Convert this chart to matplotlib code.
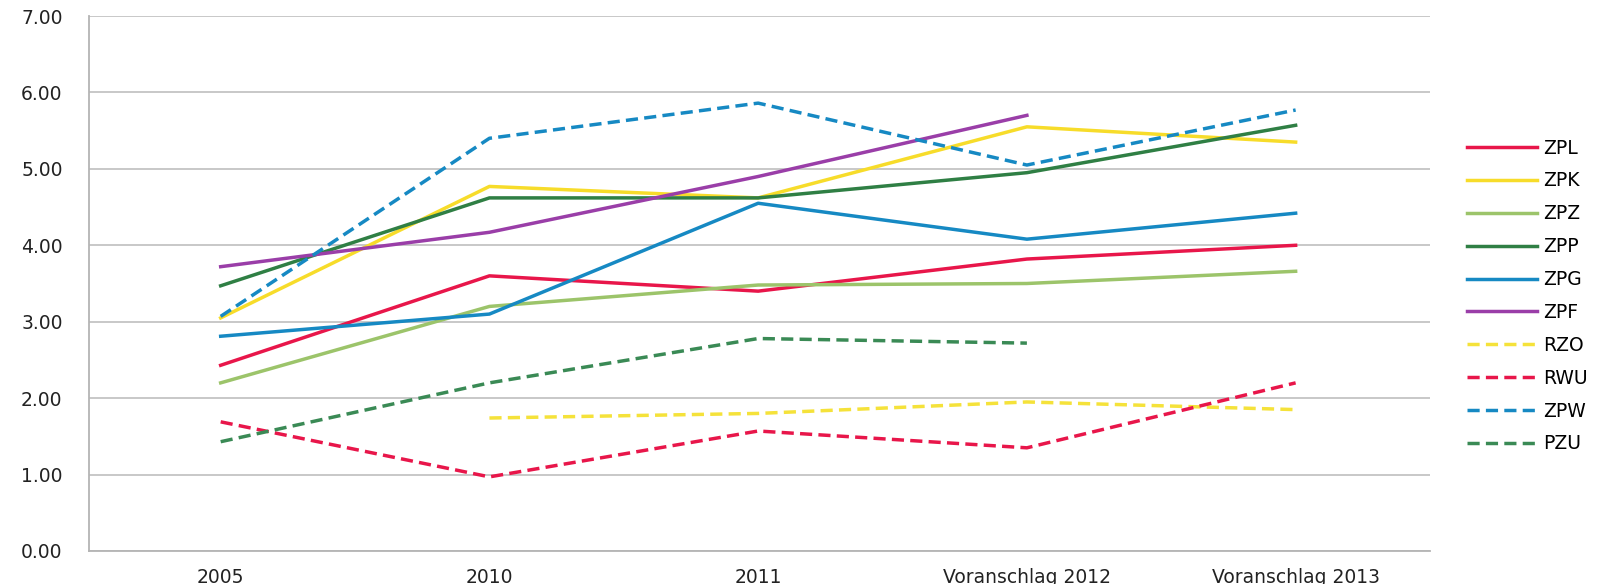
import numpy as np
import matplotlib.pyplot as plt

plt.rcParams['font.family'] = ['DejaVu Sans']

CATEGORIES = ['2005', '2010', '2011', 'Voranschlag 2012', 'Voranschlag 2013']

zpl = [2.43, 3.60, 3.40, 3.82, 4.00]
zpk = [3.05, 4.77, 4.62, 5.55, 5.35]
zpz = [2.20, 3.20, 3.48, 3.50, 3.66]
zpp = [3.47, 4.62, 4.62, 4.95, 5.57]
zpg = [2.81, 3.10, 4.55, 4.08, 4.42]
zpf = [3.72, 4.17, 4.90, 5.70, np.nan]
rzo = [np.nan, 1.74, 1.80, 1.95, 1.85]
rwu = [1.69, 0.97, 1.57, 1.35, 2.20]
zpw = [3.07, 5.40, 5.86, 5.05, 5.77]
pzu = [1.43, 2.20, 2.78, 2.72, np.nan]

series = [
    ('ZPL', zpl, '#e8164a', '-'),
    ('ZPK', zpk, '#f7dc2a', '-'),
    ('ZPZ', zpz, '#9cc46a', '-'),
    ('ZPP', zpp, '#2f7f44', '-'),
    ('ZPG', zpg, '#1689c3', '-'),
    ('ZPF', zpf, '#9a3ea8', '-'),
    ('RZO', rzo, '#f5e23a', '--'),
    ('RWU', rwu, '#e8164a', '--'),
    ('ZPW', zpw, '#1689c3', '--'),
    ('PZU', pzu, '#3a8a55', '--'),
]

W, H = 1617, 584
fig = plt.figure(figsize=(W / 100, H / 100), dpi=100)
# axes box in pixels: left 89, right 1430, top 16, bottom 551
ax = fig.add_axes([89 / W, 1 - 551 / H, (1430 - 89) / W, (551 - 16) / H])

x = np.arange(len(CATEGORIES))
for name, vals, color, ls in series:
    line, = ax.plot(x, vals, color=color, linewidth=2.5, linestyle=ls, label=name)
    if ls == '--':
        line.set_dashes([3.5, 1.8])

ax.set_xlim(-0.49, 4.5)
ax.set_ylim(0, 7)
ax.set_yticks(np.arange(0, 8, 1))
ax.set_yticklabels([f'{v:.2f}' for v in range(8)])
ax.set_xticks(x)
ax.set_xticklabels(CATEGORIES)
ax.tick_params(length=0, labelsize=13.5, colors='#222222')
ax.tick_params(axis='y', pad=19)
ax.tick_params(axis='x', pad=12)
ax.grid(axis='y', color='#c4c4c4', linewidth=1.3)
ax.set_axisbelow(True)
for s in ['top', 'right']:
    ax.spines[s].set_visible(False)
for s in ['left', 'bottom']:
    ax.spines[s].set_color('#b4b4b4')
    ax.spines[s].set_linewidth(1.3)

ax.legend(loc='center left', bbox_to_anchor=(1467 / W, 1 - 296 / H),
          bbox_transform=fig.transFigure, frameon=False, fontsize=13.5,
          borderpad=0, borderaxespad=0, handlelength=3.73, handletextpad=0.32,
          labelspacing=0.74)

fig.savefig('out.png', dpi=100)
